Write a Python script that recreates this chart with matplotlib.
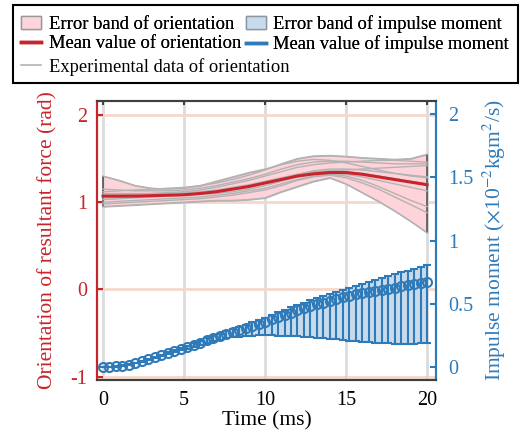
import numpy as np
import matplotlib
matplotlib.use('Agg')
import matplotlib.pyplot as plt
from matplotlib.patches import Patch, Rectangle
from matplotlib.lines import Line2D
from matplotlib.ticker import FormatStrFormatter

plt.rcParams['font.family'] = 'Liberation Serif'
plt.rcParams['mathtext.fontset'] = 'stix'
plt.rcParams['axes.unicode_minus'] = False

# orientation of resultant force (rad), sampled every 1 ms
t_orient = [0, 1, 2, 3, 4, 5, 6, 7, 8, 9, 10, 11, 12, 13, 14, 15, 16, 17, 18, 19, 20]
orient_mean = [1.07, 1.07, 1.07, 1.075, 1.08, 1.085, 1.10, 1.12, 1.15, 1.18, 1.22,
               1.26, 1.30, 1.325, 1.34, 1.34, 1.32, 1.29, 1.26, 1.23, 1.20]
orient_runs = [
    [1.30, 1.25, 1.19, 1.16, 1.15, 1.16, 1.19, 1.24, 1.29, 1.34, 1.38, 1.43, 1.47, 1.49, 1.48, 1.45, 1.41, 1.37, 1.33, 1.30, 1.28],
    [1.12, 1.13, 1.14, 1.15, 1.16, 1.17, 1.19, 1.22, 1.26, 1.31, 1.37, 1.44, 1.50, 1.53, 1.535, 1.525, 1.51, 1.50, 1.49, 1.50, 1.55],
    [1.08, 1.08, 1.09, 1.10, 1.11, 1.12, 1.14, 1.17, 1.21, 1.25, 1.30, 1.35, 1.40, 1.43, 1.45, 1.46, 1.47, 1.48, 1.48, 1.47, 1.46],
    [1.05, 1.05, 1.06, 1.07, 1.08, 1.09, 1.11, 1.13, 1.16, 1.19, 1.23, 1.27, 1.31, 1.34, 1.36, 1.37, 1.38, 1.39, 1.40, 1.41, 1.42],
    [1.10, 1.10, 1.10, 1.10, 1.10, 1.11, 1.12, 1.14, 1.17, 1.20, 1.24, 1.28, 1.32, 1.35, 1.36, 1.35, 1.33, 1.30, 1.27, 1.24, 1.21],
    [1.03, 1.04, 1.05, 1.06, 1.07, 1.08, 1.09, 1.10, 1.12, 1.15, 1.19, 1.24, 1.29, 1.32, 1.33, 1.32, 1.29, 1.25, 1.21, 1.17, 1.13],
    [1.00, 1.01, 1.02, 1.03, 1.04, 1.05, 1.06, 1.08, 1.10, 1.13, 1.16, 1.21, 1.26, 1.30, 1.32, 1.30, 1.25, 1.18, 1.10, 1.02, 0.95],
    [0.95, 0.96, 0.97, 0.98, 0.99, 1.00, 1.01, 1.02, 1.02, 1.03, 1.05, 1.12, 1.18, 1.24, 1.28, 1.21, 1.11, 1.01, 0.90, 0.78, 0.65],
    [1.06, 1.06, 1.07, 1.07, 1.08, 1.09, 1.10, 1.12, 1.15, 1.18, 1.22, 1.27, 1.32, 1.36, 1.38, 1.38, 1.37, 1.35, 1.33, 1.31, 1.29],
    [0.98, 0.99, 1.00, 1.01, 1.02, 1.03, 1.04, 1.06, 1.08, 1.11, 1.14, 1.19, 1.25, 1.29, 1.31, 1.28, 1.22, 1.15, 1.06, 0.97, 0.88],
    [1.15, 1.14, 1.13, 1.13, 1.13, 1.14, 1.16, 1.19, 1.23, 1.27, 1.32, 1.38, 1.43, 1.46, 1.47, 1.47, 1.46, 1.45, 1.44, 1.44, 1.44],
]

# impulse moment (x10^-2 kgm^2/s), sampled every 0.4 ms
t_imp = [0.0, 0.4, 0.8, 1.2, 1.6, 2.0, 2.4, 2.8, 3.2, 3.6, 4.0, 4.4, 4.8, 5.2, 5.6, 6.0, 6.4,
         6.8, 7.2, 7.6, 8.0, 8.4, 8.8, 9.2, 9.6, 10.0, 10.4, 10.8, 11.2, 11.6, 12.0, 12.4,
         12.8, 13.2, 13.6, 14.0, 14.4, 14.8, 15.2, 15.6, 16.0, 16.4, 16.8, 17.2, 17.6, 18.0,
         18.4, 18.8, 19.2, 19.6, 20.0]
imp_mean = [0.000, 0.002, 0.007, 0.014, 0.022, 0.035, 0.048, 0.062, 0.078, 0.094, 0.110,
            0.126, 0.142, 0.159, 0.177, 0.195, 0.213, 0.231, 0.248, 0.264, 0.280, 0.296,
            0.312, 0.328, 0.344, 0.360, 0.378, 0.396, 0.414, 0.432, 0.450, 0.466, 0.482,
            0.497, 0.511, 0.525, 0.539, 0.553, 0.565, 0.575, 0.585, 0.595, 0.605, 0.614,
            0.622, 0.630, 0.638, 0.646, 0.654, 0.662, 0.670]
imp_upper = [0.000, 0.003, 0.009, 0.016, 0.025, 0.038, 0.052, 0.066, 0.083, 0.100, 0.117,
             0.134, 0.151, 0.169, 0.189, 0.208, 0.228, 0.247, 0.266, 0.284, 0.302, 0.320,
             0.338, 0.356, 0.374, 0.393, 0.413, 0.433, 0.453, 0.473, 0.493, 0.511, 0.529,
             0.546, 0.563, 0.580, 0.597, 0.614, 0.630, 0.645, 0.660, 0.676, 0.692, 0.707,
             0.721, 0.735, 0.749, 0.763, 0.779, 0.794, 0.810]
imp_lower = [0.000, 0.001, 0.006, 0.012, 0.020, 0.032, 0.045, 0.058, 0.073, 0.088, 0.103,
             0.118, 0.133, 0.148, 0.164, 0.180, 0.194, 0.207, 0.219, 0.229, 0.237, 0.243,
             0.247, 0.250, 0.252, 0.252, 0.252, 0.251, 0.250, 0.248, 0.245, 0.242, 0.239,
             0.235, 0.230, 0.225, 0.220, 0.215, 0.210, 0.205, 0.200, 0.197, 0.194, 0.191,
             0.189, 0.188, 0.187, 0.187, 0.188, 0.189, 0.190]

red = '#c8242b'
blue = '#2f7bba'
pink = '#ffd3da'
lightblue = '#c8dbec'
gray = '#b3b3b3'
dark = '#404040'

W, H = 525, 432
fig = plt.figure(figsize=(5.25, 4.32), dpi=100)
ax = fig.add_axes([0.1848, 0.1204, 0.6457, 0.6466])
ax2 = ax.twinx()

# orientation: band (min/max of runs), runs, mean
runs = np.array(orient_runs)
band_lo, band_hi = runs.min(axis=0), runs.max(axis=0)
ax.fill_between(t_orient, band_lo, band_hi, facecolor=pink, edgecolor=gray,
                linewidth=1, zorder=2)
ax.vlines([t_orient[0], t_orient[-1]], [band_lo[0], band_lo[-1]], [band_hi[0], band_hi[-1]],
          colors='#555555', lw=1.2, zorder=3)
for r in orient_runs:
    ax.plot(t_orient, r, color=gray, lw=1, zorder=3)
ax.plot(t_orient, orient_mean, color=red, lw=2.2, zorder=4)

# impulse moment: band + error bars with open markers
mean = np.array(imp_mean)
ax2.fill_between(t_imp, imp_lower, imp_upper, facecolor=lightblue, edgecolor='none', zorder=1)
yerr = [mean - np.array(imp_lower), np.array(imp_upper) - mean]
ax2.errorbar(t_imp, imp_mean, yerr=yerr, fmt='o', color=blue, ecolor=blue, elinewidth=1.5,
             capsize=3, capthick=1.5, markersize=6.5, markerfacecolor='none',
             markeredgewidth=1.5, zorder=3)

ax.set_xlim(-0.37, 20.55)
ax.set_ylim(-1.038, 2.164)
ax2.set_ylim(-0.100, 2.105)
ax.set_xticks([0, 5, 10, 15, 20])
ax.set_yticks([-1, 0, 1, 2])
ax2.set_yticks([0, 0.5, 1, 1.5, 2])
ax2.yaxis.set_major_formatter(FormatStrFormatter('%g'))

ax.set_axisbelow(True)
ax.yaxis.grid(True, color='#f4d8cc', lw=2)
ax.xaxis.grid(True, color='#dcdcdc', lw=2)

ax.tick_params(axis='x', direction='in', length=3, width=1.5, color=dark, labelsize=14.5,
               pad=8, top=True, labelcolor='black')
ax.tick_params(axis='y', direction='in', length=4, width=1.5, color=red, labelcolor=red,
               labelsize=14.5, pad=7)
ax2.tick_params(axis='y', direction='in', length=4, width=1.5, color=blue, labelcolor=blue,
                labelsize=14.5, pad=9)

for a in (ax, ax2):
    for s in a.spines.values():
        s.set_linewidth(1.5)
    a.spines['top'].set_color(dark)
    a.spines['bottom'].set_color(dark)
    a.spines['left'].set_color(red)
    a.spines['right'].set_color(blue)

ax.set_xlabel('Time (ms)', fontsize=15.5, labelpad=1)
ax.set_ylabel('Orientation of resultant force (rad)', fontsize=15.5, color=red, labelpad=9)
ax2.set_ylabel(r'Impulse moment ($\times$10$^{-2}$kgm$^{2}$/s)', fontsize=15.5, color=blue,
               labelpad=5)

# legend: first two rows in two columns, third row on its own, one shared frame
top_handles = [
    Patch(facecolor=pink, edgecolor='#999999', lw=1),
    Line2D([], [], color=red, lw=2.5),
    Patch(facecolor=lightblue, edgecolor='#8a96a0', lw=1),
    Line2D([], [], color=blue, lw=2.5),
]
top_labels = ['Error band of orientation', 'Mean value of orientation',
              'Error band of impulse moment', 'Mean value of impulse moment']
leg_kw = dict(loc='upper left', fontsize=13.3, frameon=False, borderaxespad=0,
              borderpad=0, handlelength=1.1, handletextpad=0.4, labelspacing=0.12,
              columnspacing=0.25)
leg1 = fig.legend(top_handles, top_labels, ncol=2,
                  bbox_to_anchor=(21 / W, 1 - 15 / H), **leg_kw)
leg2 = fig.legend([Line2D([], [], color=gray, lw=1.2)], ['Experimental data of orientation'],
                  bbox_to_anchor=(21 / W, 1 - 58 / H), **leg_kw)
fig.add_artist(leg1)
fig.patches.append(Rectangle((12.7 / W, 1 - 83 / H), 505.3 / W, 78 / H,
                             transform=fig.transFigure, fill=False, edgecolor='black',
                             lw=1.5))

fig.savefig('out.png', dpi=100)
